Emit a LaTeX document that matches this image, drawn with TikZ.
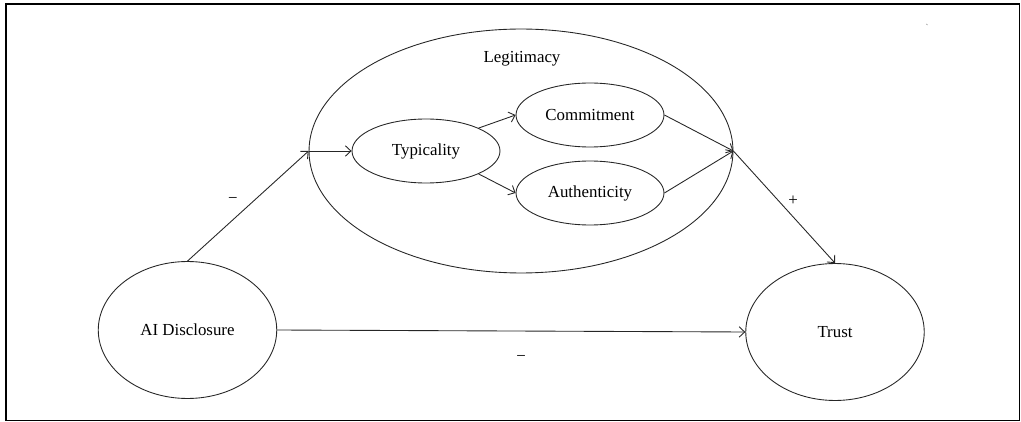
\documentclass[tikz,border=0pt]{standalone}
\usepackage{fontspec}
\setmainfont{Liberation Serif}
\usepackage{xcolor}
\usepackage{tikz}
\usetikzlibrary{arrows.meta, shapes.geometric}
\tikzset{
  latnode/.style={ellipse,draw=black!85,line width=0.5pt,inner sep=0pt,
    minimum width=3.57cm,minimum height=2.74cm,font=\fontsize{9.6}{11}\selectfont},
  subnode/.style={latnode,minimum width=2.96cm,minimum height=1.28cm},
  groupnode/.style={latnode,minimum width=8.48cm,minimum height=4.88cm},
  pathedge/.style={-{Straight Barb[length=3.2pt,width=6pt]},line width=0.5pt,black!85},
  signlbl/.style={font=\fontsize{9.6}{11}\selectfont},
}

\begin{document}
\begin{tikzpicture}[x=0.02cm,y=-0.02cm]
  \useasboundingbox (0,0) rectangle (1021,422);
  \draw[line width=1.1pt] (6,4) rectangle (1019.5,420.5);
  % ---- mediator block: legitimacy with its three facets ----
  \node[groupnode] (legit) at (521,151) {};
  \node[signlbl] (legitlbl) at (522,59) {Legitimacy};
  \node[subnode] (typ)  at (426,151) {Typicality};
  \node[subnode] (comm) at (590,115) {Commitment};
  \node[subnode] (auth) at (590,193) {Authenticity};
  % ---- outer variables ----
  \node[latnode] (ai)    at (187.5,330) {AI Disclosure};
  \node[latnode] (trust) at (835,332) {Trust};
  \draw[pathedge] (ai.north) -- (legit.west);
  \draw[pathedge] (legit.west) -- (typ.west);
  \draw[pathedge] (typ.north east) -- (comm.west);
  \draw[pathedge] (typ.south east) -- (auth.west);
  \draw[pathedge] (comm.east) -- (legit.east);
  \draw[pathedge] (auth.east) -- (legit.east);
  \draw[pathedge] (legit.east) -- (trust.north);
  \draw[pathedge] (ai.east) -- (trust.west);
  \node[signlbl] (sgnA) at (233,200) {−};
  \node[signlbl] (sgnB) at (793,201) {+};
  \node[signlbl] (sgnC) at (521,358) {−};
  \node[font=\tiny,black!60] (tick) at (927,27) {\textasciigrave};
\end{tikzpicture}
\end{document}
